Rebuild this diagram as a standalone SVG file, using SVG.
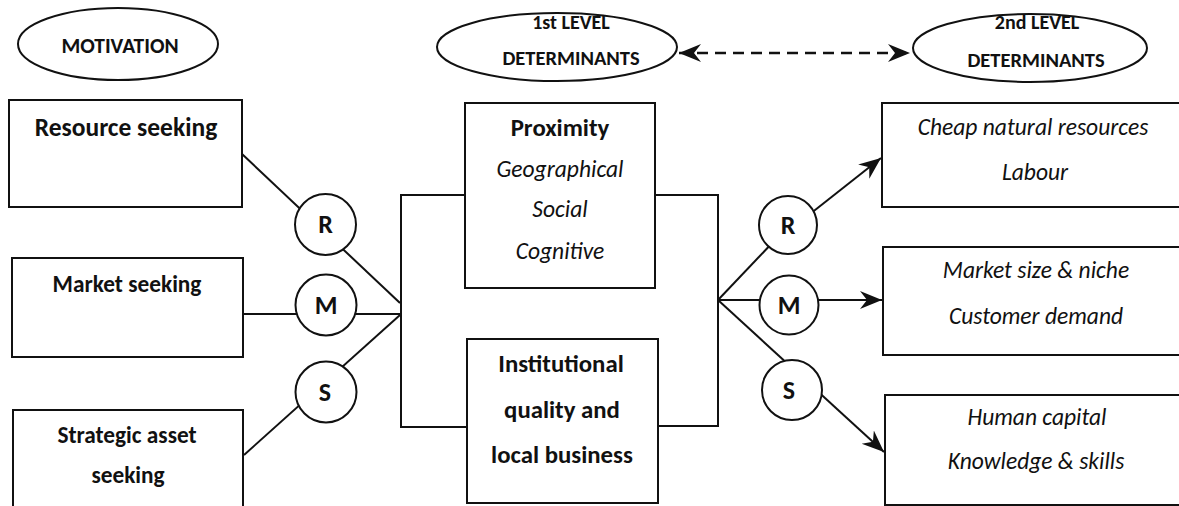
<svg xmlns="http://www.w3.org/2000/svg" width="1179" height="506" viewBox="0 0 1179 506">
  <style>
    .shape { fill: #fff; stroke: #111; stroke-width: 2; }
    .wire { fill: none; stroke: #111; stroke-width: 2; }
    .dash { fill: none; stroke: #111; stroke-width: 2.5; stroke-dasharray: 11 7; }
    text { font-family: Carlito, Lato, "Liberation Sans", sans-serif; fill: #111; text-anchor: middle; }
    .head { font-size: 20.5px; font-weight: bold; }
    .big { font-size: 24.8px; font-weight: bold; }
    .mid { font-size: 23.3px; font-weight: bold; }
    .it { font-size: 23.5px; font-style: italic; }
    .letter { font-size: 26px; font-weight: bold; }
  </style>
  <defs>
    <marker id="stealth" viewBox="-22 -10 24 20" refX="0" refY="0" markerWidth="24" markerHeight="20" markerUnits="userSpaceOnUse" orient="auto-start-reverse">
      <path d="M0,0 L-22,-9 L-15,0 L-22,9 Z" fill="#111"/>
    </marker>
  </defs>

  <!-- connectors -->
  <g id="connectors">
    <!-- motivation lines into the left bracket -->
    <line class="wire" x1="242" y1="154" x2="400" y2="303"/>
    <line class="wire" x1="243" y1="314" x2="400" y2="314"/>
    <line class="wire" x1="244" y1="455" x2="400" y2="315"/>
    <!-- brackets around the first-level boxes -->
    <path class="wire" d="M465,195 H401 V427 H467"/>
    <path class="wire" d="M655,195 H718 V426 H658"/>
    <!-- arrows out to second-level boxes -->
    <line class="wire" x1="718" y1="300" x2="775" y2="240"/>
    <line class="wire" x1="810" y1="214" x2="881" y2="158" marker-end="url(#stealth)"/>
    <line class="wire" x1="718" y1="300" x2="882" y2="300" marker-end="url(#stealth)"/>
    <line class="wire" x1="718" y1="300" x2="884" y2="452" marker-end="url(#stealth)"/>
    <!-- dashed link between the level headings -->
    <line class="dash" x1="679" y1="53" x2="910" y2="53" marker-start="url(#stealth)" marker-end="url(#stealth)"/>
  </g>

  <!-- headings -->
  <g id="motivation">
    <ellipse class="shape" cx="118" cy="44" rx="100" ry="36"/>
    <text class="head" x="120" y="53" style="font-size:21.5px">MOTIVATION</text>
  </g>
  <g id="level1">
    <ellipse class="shape" cx="557" cy="47" rx="120" ry="34"/>
    <text class="head" x="571" y="29" style="font-size:20px">1st LEVEL</text>
    <text class="head" x="571" y="65">DETERMINANTS</text>
  </g>
  <g id="level2">
    <ellipse class="shape" cx="1030" cy="48" rx="117" ry="34"/>
    <text class="head" x="1037" y="29" style="font-size:20px">2nd LEVEL</text>
    <text class="head" x="1036" y="67">DETERMINANTS</text>
  </g>

  <!-- motivation boxes -->
  <g id="resource-seeking">
    <rect class="shape" x="9" y="100" width="233" height="107"/>
    <text class="big" x="126" y="136" style="font-size:25.5px">Resource seeking</text>
  </g>
  <g id="market-seeking">
    <rect class="shape" x="12" y="258" width="231" height="99"/>
    <text class="mid" x="127" y="292">Market seeking</text>
  </g>
  <g id="strategic-asset-seeking">
    <rect class="shape" x="13" y="410" width="230" height="110"/>
    <text class="mid" x="127" y="443">Strategic asset</text>
    <text class="mid" x="128" y="483">seeking</text>
  </g>

  <!-- left circles -->
  <g id="circle-r-left">
    <circle class="shape" cx="325.5" cy="224.5" r="30.5"/>
    <text class="letter" x="325.5" y="233">R</text>
  </g>
  <g id="circle-m-left">
    <circle class="shape" cx="326" cy="305" r="30.5"/>
    <text class="letter" x="326" y="314">M</text>
  </g>
  <g id="circle-s-left">
    <circle class="shape" cx="326" cy="392" r="30.5"/>
    <text class="letter" x="325" y="401">S</text>
  </g>

  <!-- first-level determinants -->
  <g id="proximity">
    <rect class="shape" x="465" y="103" width="190" height="185"/>
    <text class="big" x="560" y="136">Proximity</text>
    <text class="it" x="560" y="177">Geographical</text>
    <text class="it" x="560" y="217">Social</text>
    <text class="it" x="560" y="259">Cognitive</text>
  </g>
  <g id="institutional">
    <rect class="shape" x="467" y="339" width="191" height="164"/>
    <text class="big" x="561" y="372">Institutional</text>
    <text class="big" x="562" y="418">quality and</text>
    <text class="big" x="562" y="463">local business</text>
  </g>

  <!-- right circles -->
  <g id="circle-r-right">
    <circle class="shape" cx="788" cy="225" r="29"/>
    <text class="letter" x="788" y="234">R</text>
  </g>
  <g id="circle-m-right">
    <circle class="shape" cx="789" cy="305" r="29.5"/>
    <text class="letter" x="789" y="314">M</text>
  </g>
  <g id="circle-s-right">
    <circle class="shape" cx="792" cy="390" r="30"/>
    <text class="letter" x="789" y="399">S</text>
  </g>

  <!-- second-level determinants -->
  <g id="resources">
    <rect class="shape" x="882" y="103" width="310" height="104"/>
    <text class="it" x="1033" y="135">Cheap natural resources</text>
    <text class="it" x="1035" y="180">Labour</text>
  </g>
  <g id="market">
    <rect class="shape" x="883" y="247" width="310" height="108"/>
    <text class="it" x="1036" y="278">Market size &amp; niche</text>
    <text class="it" x="1036" y="324">Customer demand</text>
  </g>
  <g id="knowledge">
    <rect class="shape" x="885" y="395" width="310" height="110"/>
    <text class="it" x="1037" y="425">Human capital</text>
    <text class="it" x="1036" y="469">Knowledge &amp; skills</text>
  </g>
</svg>
